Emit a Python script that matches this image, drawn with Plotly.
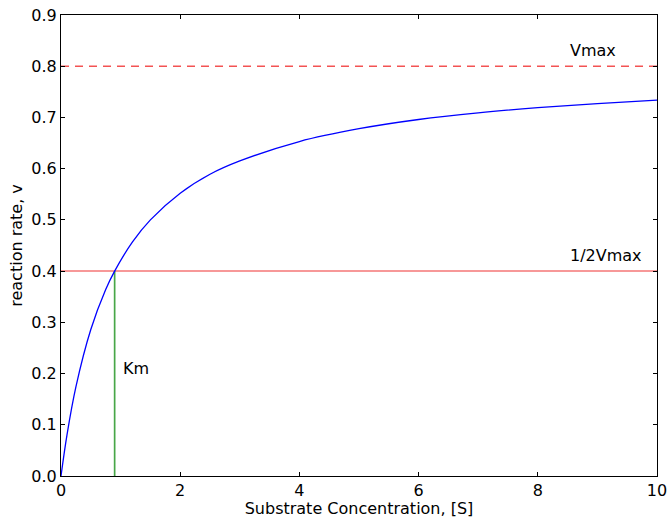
import plotly.graph_objects as go

# Michaelis-Menten saturation curve, sampled values
substrate = [0, 0.1, 0.25, 0.5, 0.75, 0.9, 1.2, 1.5, 2, 2.5, 3, 4, 5, 6, 7, 8, 9, 10]
rate = [0, 0.080, 0.174, 0.286, 0.364, 0.400, 0.457, 0.500, 0.552, 0.589,
        0.615, 0.653, 0.678, 0.696, 0.709, 0.719, 0.727, 0.734]
vmax = 0.8
half_vmax = 0.4
km = 0.9

x_ticks = [0, 2, 4, 6, 8, 10]
y_ticks = [0.0, 0.1, 0.2, 0.3, 0.4, 0.5, 0.6, 0.7, 0.8, 0.9]

font = "DejaVu Sans, sans-serif"
fs = 16
fig = go.Figure()

fig.add_trace(go.Scatter(x=[0, 10], y=[vmax, vmax], mode="lines",
                         line=dict(color="rgba(240,40,40,0.8)", width=1.5, dash="8px,6px"),
                         hoverinfo="skip"))
fig.add_trace(go.Scatter(x=[0, 10], y=[half_vmax, half_vmax], mode="lines",
                         line=dict(color="rgba(240,60,60,0.7)", width=1.5),
                         hoverinfo="skip"))
fig.add_trace(go.Scatter(x=[km, km], y=[0, half_vmax], mode="lines",
                         line=dict(color="rgba(40,150,40,0.85)", width=1.7),
                         hoverinfo="skip"))
fig.add_trace(go.Scatter(x=substrate, y=rate, mode="lines",
                         line=dict(color="#0000ff", width=1.3, shape="spline", smoothing=1.0)))

for txt, x, y in [("Vmax", 8.5, 0.83), ("1/2Vmax", 8.5, 0.431), ("Km", 1.0, 0.209)]:
    fig.add_annotation(x=x, y=y, text=txt, showarrow=False, xanchor="left", yanchor="middle",
                       font=dict(family=font, size=fs, color="black"))

axis_common = dict(showline=True, linecolor="black", linewidth=1, mirror="allticks",
                   ticks="inside", ticklen=4, tickcolor="black", showgrid=False,
                   zeroline=False, automargin=False, ticklabeloverflow="allow",
                   tickfont=dict(family=font, size=fs, color="black"))

fig.update_xaxes(range=[0, 10], tickvals=x_ticks, ticktext=[str(t) for t in x_ticks],
                 title=dict(text="Substrate Concentration, [S]", standoff=0,
                            font=dict(family=font, size=fs, color="black")),
                 **axis_common)
fig.update_yaxes(range=[0, 0.9], tickvals=y_ticks, ticktext=[f"{t:.1f}" for t in y_ticks],
                 title=dict(text="reaction rate, v", standoff=4,
                            font=dict(family=font, size=fs, color="black")),
                 **axis_common)

fig.update_layout(width=667, height=518, margin=dict(l=61, r=10, t=15, b=42),
                  showlegend=False, plot_bgcolor="white", paper_bgcolor="white")

fig.write_html("out.html")
